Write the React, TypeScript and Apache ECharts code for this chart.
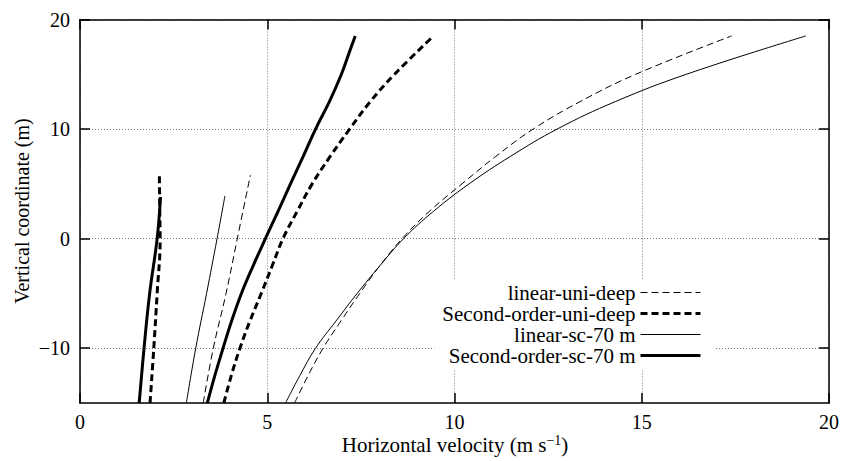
import React, { useEffect, useRef } from "react";
import * as echarts from "echarts";

// Legend / series names
const NAMES = ["linear-uni-deep", "Second-order-uni-deep", "linear-sc-70 m", "Second-order-sc-70 m"];

// Axis titles and ticks
const X_TITLE = "{a|Horizontal velocity (m s}{s|\u22121}{a|)}";
const Y_TITLE = "Vertical coordinate (m)";
const Y_TICKS = [-10, 0, 10, 20];

// Left group (shallow profiles)
const linUniA_y = [-15, -10, -5, 0, 5.8];
const linUniA_x = [3.29, 3.56, 3.9, 4.2, 4.55];
const secUniA_y = [-15, -10, -5, 0, 2.5, 5.8];
const secUniA_x = [1.87, 1.97, 2.06, 2.14, 2.13, 2.12];
const linScA_y = [-15, -10, -5, 0, 3.9];
const linScA_x = [2.84, 3.09, 3.38, 3.66, 3.87];
const secScA_y = [-15, -10, -5, 0, 3.8];
const secScA_x = [1.58, 1.71, 1.86, 2.06, 2.15];

// Right group (full-depth profiles)
const linUniB_y = [-15, -12.5, -10, -7.5, -5, -2.5, 0, 2.5, 5, 7.5, 10, 12.5, 15, 18.5];
const linUniB_x = [5.73, 6.09, 6.49, 6.97, 7.47, 8.0, 8.6, 9.33, 10.2, 11.1, 12.1, 13.35, 14.84, 17.4];
const secUniB_y = [-15, -12.5, -10, -7.5, -5, -2.5, 0, 2.5, 5, 7.5, 10, 12.5, 15, 18.5];
const secUniB_x = [3.84, 4.04, 4.27, 4.54, 4.84, 5.13, 5.42, 5.8, 6.2, 6.68, 7.2, 7.75, 8.4, 9.44];
const linScB_y = [-15, -12.5, -10, -7.5, -5, -2.5, 0, 2.5, 5, 7.5, 10, 12.5, 15, 18.5];
const linScB_x = [5.49, 5.87, 6.29, 6.84, 7.4, 8.0, 8.64, 9.44, 10.39, 11.49, 12.74, 14.29, 16.19, 19.38];
const secScB_y = [-15, -12.5, -10, -7.5, -5, -2.5, 0, 2.5, 5, 7.5, 10, 12.5, 15, 17, 18.5];
const secScB_x = [3.4, 3.6, 3.82, 4.05, 4.31, 4.62, 4.95, 5.29, 5.62, 5.96, 6.29, 6.66, 6.98, 7.19, 7.35];

const FONT = "serif";

const zip = (xs: number[], ys: number[]) => xs.map((x, i) => [x, ys[i]]);

const STYLES: Record<string, any> = {
  "linear-uni-deep": { width: 1, type: [7, 4] },
  "Second-order-uni-deep": { width: 3, type: [7, 4] },
  "linear-sc-70 m": { width: 1, type: "solid" },
  "Second-order-sc-70 m": { width: 3, type: "solid" },
};

const mk = (name: string, xs: number[], ys: number[]) => ({
  name,
  type: "line",
  data: zip(xs, ys),
  symbol: "none",
  smooth: 0.4,
  lineStyle: { color: "#000", ...STYLES[name] },
  itemStyle: { color: "#000" },
  emphasis: { disabled: true },
  z: 3,
});

const axisLine = { show: true, onZero: false, lineStyle: { color: "#000", width: 1.5 } };

export default function App() {
  const ref = useRef<HTMLDivElement>(null);
  useEffect(() => {
    if (!ref.current) return;
    const chart = echarts.init(ref.current, undefined, { renderer: "svg" });
    const minus = (v: number) => String(v).replace("-", "\u2212");
    chart.setOption({
      animation: false,
      textStyle: { fontFamily: FONT },
      grid: { left: 80, right: 12, top: 19.5, bottom: 58 },
      graphic: [
        {
          type: "text",
          x: 455,
          y: 445,
          style: {
            text: X_TITLE,
            fontFamily: FONT,
            align: "center",
            verticalAlign: "middle",
            rich: {
              a: { fontFamily: FONT, fontSize: 21, fill: "#000", lineHeight: 24 },
              s: { fontFamily: FONT, fontSize: 14, fill: "#000", lineHeight: 14, verticalAlign: "top" },
            },
          },
        },
        {
          type: "text",
          x: 22,
          y: 211,
          rotation: Math.PI / 2,
          style: {
            text: Y_TITLE,
            fontFamily: FONT,
            fontSize: 20,
            fill: "#000",
            align: "center",
            verticalAlign: "middle",
          },
        },
      ],
      legend: {
        data: NAMES.map((n) => ({
          name: n,
          lineStyle: { color: "#000", ...STYLES[n] },
        })),
        orient: "vertical",
        align: "right",
        right: 127,
        top: 280,
        padding: [2, 13, 4, 8],
        itemGap: 0,
        itemWidth: 60,
        itemHeight: 20,
        backgroundColor: "#fff",
        itemStyle: { opacity: 0, borderWidth: 0 },
        textStyle: { fontFamily: FONT, fontSize: 21, color: "#000", lineHeight: 21 },
        z: 10,
      },
      xAxis: [
        {
          type: "value",
          min: 0,
          max: 20,
          interval: 5,
          axisLine,
          axisTick: { show: true, inside: true, length: 10, lineStyle: { color: "#000", width: 1.5 } },
          axisLabel: { fontFamily: FONT, fontSize: 20, color: "#000", margin: 9 },
          splitLine: { show: true, lineStyle: { color: "#777", width: 1, type: [1, 2] } },
        },
        {
          type: "value",
          position: "top",
          min: 0,
          max: 20,
          interval: 5,
          axisLine,
          axisTick: { show: true, inside: true, length: 10, lineStyle: { color: "#000", width: 1.5 } },
          axisLabel: { show: false },
          splitLine: { show: false },
        },
      ],
      yAxis: [
        {
          type: "value",
          min: -15,
          max: 20,
          axisLine,
          axisTick: { show: true, inside: true, length: 10, lineStyle: { color: "#000", width: 1.5 }, customValues: Y_TICKS },
          axisLabel: { fontFamily: FONT, fontSize: 20, color: "#000", margin: 10, customValues: Y_TICKS, formatter: minus },
          splitLine: { show: true, lineStyle: { color: "#777", width: 1, type: [1, 2] } },
        },
        {
          type: "value",
          position: "right",
          min: -15,
          max: 20,
          axisLine,
          axisTick: { show: true, inside: true, length: 10, lineStyle: { color: "#000", width: 1.5 }, customValues: Y_TICKS },
          axisLabel: { show: false, customValues: Y_TICKS },
          splitLine: { show: false },
        },
      ],
      series: [
        mk(NAMES[0], linUniA_x, linUniA_y),
        mk(NAMES[1], secUniA_x, secUniA_y),
        mk(NAMES[2], linScA_x, linScA_y),
        mk(NAMES[3], secScA_x, secScA_y),
        mk(NAMES[0], linUniB_x, linUniB_y),
        mk(NAMES[1], secUniB_x, secUniB_y),
        mk(NAMES[2], linScB_x, linScB_y),
        mk(NAMES[3], secScB_x, secScB_y),
      ],
    });
    return () => chart.dispose();
  }, []);
  return (
    <div
      ref={ref}
      style={{ position: "absolute", left: 0, top: 0, width: 842, height: 461, background: "#fff" }}
    />
  );
}
